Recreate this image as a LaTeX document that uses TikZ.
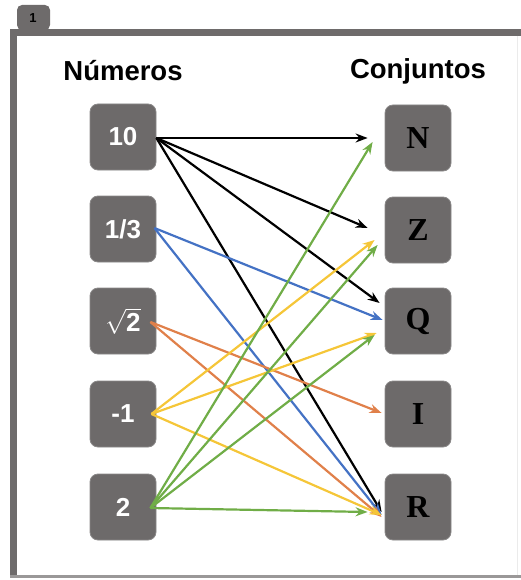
\documentclass[tikz,border=0pt]{standalone}
\usepackage{fontspec}
\setmainfont{Liberation Sans}
\newfontfamily\setfont{Liberation Serif}
\usetikzlibrary{calc,arrows.meta}
\definecolor{boxgray}{HTML}{6D6A6A}
\definecolor{framegray}{HTML}{6E6B6B}
\definecolor{lightframe}{HTML}{9A9898}
\definecolor{cblue}{HTML}{4472C4}
\definecolor{corange}{HTML}{E0804A}
\definecolor{cyellow}{HTML}{F5C638}
\definecolor{cgreen}{HTML}{70AD47}
\begin{document}
\begin{tikzpicture}[x=1pt,y=-1pt,
  numbox/.style={draw=boxgray!80!white, line width=0.8pt, fill=boxgray, rounded corners=8pt,
    minimum width=66pt, minimum height=66pt, inner sep=0pt,
    text=white, font=\fontsize{26}{26}\selectfont\bfseries},
  setbox/.style={draw=boxgray!80!white, line width=0.8pt, fill=boxgray, rounded corners=8pt,
    minimum width=66pt, minimum height=66pt, inner sep=0pt,
    text=black, font=\setfont\fontsize{32}{32}\selectfont\bfseries},
  head/.style={font=\fontsize{27.5}{27.5}\selectfont\bfseries, text=black},
  link/.style={line width=2.2pt, -{Stealth[length=12pt,width=9pt]}}
]
\useasboundingbox (0,0) rectangle (521,580);

% frame and tab
\fill[framegray, rounded corners=5pt] (17,30) -- (17,5) -- (50,5) -- (50,30) -- cycle;
\node[font=\fontsize{13}{13}\selectfont\bfseries] (tab) at (33,18) {1};
\fill[framegray] (10,29) rectangle (521,36);
\fill[framegray] (10,29) rectangle (17,576);
\fill[lightframe] (10,575) rectangle (521,578);
\draw[black!8, line width=0.8pt] (517,36) -- (517,575);

% headings
\node[head] (hnum) at (123,71) {Números};
\node[head] (hset) at (418,71) {Conjuntos};

% number boxes
\node[numbox] (n10) at (123,137) {10};
\node[numbox] (nthird) at (123,229) {1/3};
\node[numbox] (nroot) at (123,321) {$\sqrt{\mbox{2}}$};
\node[numbox] (nneg) at (123,414) {-1};
\node[numbox] (ntwo) at (123,507) {2};

% set boxes
\node[setbox] (N) at (418,138) {N};
\node[setbox] (Z) at (418,230) {Z};
\node[setbox] (Q) at (418,321) {Q};
\node[setbox] (I) at (418,414) {I};
\node[setbox] (R) at (418,507) {R};

% start points on the number boxes
\coordinate (s10) at ($(n10.east)+(0,1)$);
\coordinate (sthird) at ($(nthird.east)+(-2,-1)$);
\coordinate (sroot) at ($(nroot.east)+(-6,1)$);
\coordinate (sneg) at ($(nneg.east)+(-5,0)$);
\coordinate (stwo) at ($(ntwo.east)+(-6,1)$);

% 10
\draw[link, black] (s10) -- ($(N.west)+(-17,0)$);
\draw[link, black] (s10) -- ($(Z.west)+(-17,-2)$);
\draw[link, black] (s10) -- ($(Q.west)+(-5,-18)$);
\draw[link, black] (s10) -- ($(R.west)+(-3,5)$);
% 1/3
\draw[link, cblue] (sthird) -- ($(Q.west)+(-2,-1)$);
\draw[link, cblue] (sthird) -- ($(R.west)+(-3,8)$);
% sqrt 2
\draw[link, corange] (sroot) -- ($(I.west)+(-3,-1)$);
\draw[link, corange] (sroot) -- ($(R.west)+(-3,10)$);
% -1
\draw[link, cyellow] (sneg) -- ($(Z.west)+(-10,10)$);
\draw[link, cyellow] (sneg) -- ($(Q.west)+(-8,12)$);
\draw[link, cyellow] (sneg) -- ($(R.west)+(-3,8)$);
% 2
\draw[link, cgreen] (stwo) -- ($(N.west)+(-12,4)$);
\draw[link, cgreen] (stwo) -- ($(Z.west)+(-7,15)$);
\draw[link, cgreen] (stwo) -- ($(Q.west)+(-10,14)$);
\draw[link, cgreen] (stwo) -- ($(R.west)+(-17,5)$);
\end{tikzpicture}
\end{document}
